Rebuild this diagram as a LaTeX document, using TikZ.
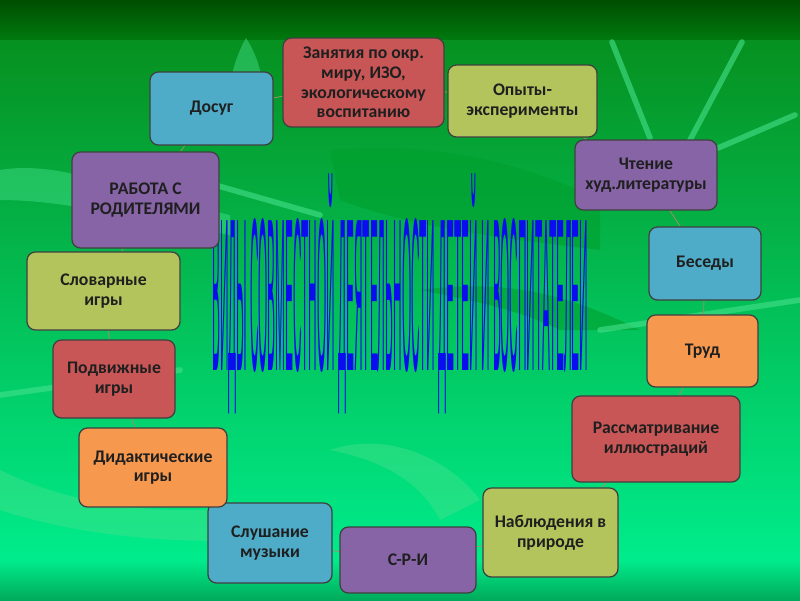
\documentclass[tikz,border=0pt]{standalone}
\usepackage{fontspec}
\setmainfont{Carlito}
\newfontfamily\titlefont{Liberation Sans}
\usetikzlibrary{positioning}
\pgfdeclarelayer{bg}
\pgfdeclarelayer{background}
\pgfsetlayers{bg,background,main}
\newlength{\px}
\setlength{\px}{0.025cm}
\definecolor{boxred}{RGB}{200,86,86}
\definecolor{boxolive}{RGB}{180,196,92}
\definecolor{boxpurple}{RGB}{134,100,166}
\definecolor{boxaqua}{RGB}{78,172,200}
\definecolor{boxorange}{RGB}{246,152,78}
\definecolor{titleblue}{RGB}{12,12,240}
\definecolor{linkgrey}{RGB}{150,145,105}
\definecolor{topdark}{RGB}{0,78,0}
\definecolor{topmid}{RGB}{0,122,14}
\definecolor{greenhi}{RGB}{6,145,32}
\definecolor{greenlo}{RGB}{0,236,140}
\definecolor{botlo}{RGB}{0,170,90}
\definecolor{leaflight}{RGB}{70,225,140}
\definecolor{leafdark}{RGB}{0,160,45}
\tikzset{
    blk/.style={draw=black!75, line width=0.9pt, rounded corners=6pt, align=center,
                font=\fontsize{12.6}{14}\selectfont\bfseries, text=black!88, inner sep=2pt},
    lnk/.style={draw=linkgrey, line width=0.6pt},
    leaf/.style={fill=leaflight, opacity=0.45},
    dleaf/.style={fill=leafdark, opacity=0.6},
    vein/.style={draw=leaflight, line width=4pt, opacity=0.6, line cap=round},
}

\begin{document}
\begin{tikzpicture}[x=\px, y=-\px]
    \useasboundingbox (0,0) rectangle (800,600);
    % background
    \begin{pgfonlayer}{bg}
        \shade[top color=topdark, bottom color=topmid] (0,0) rectangle (800,40);
        \shade[top color=greenhi, bottom color=greenlo] (0,40) rectangle (800,560);
        \shade[top color=greenlo, bottom color=botlo] (0,560) rectangle (800,600);
        \fill[dleaf] (330,150) .. controls (420,140) and (520,160) .. (600,200) -- (600,250) .. controls (520,240) and (420,230) .. (340,200) -- cycle;
        \fill[dleaf] (420,290) .. controls (500,280) and (560,290) .. (640,330) -- (560,330) .. controls (520,310) and (470,300) .. (420,290) -- cycle;
        \fill[leaf] (228,132) .. controls (224,90) and (236,55) .. (246,38) .. controls (262,62) and (270,100) .. (258,135) -- cycle;
        \fill[leaf] (0,170) .. controls (60,160) and (120,190) .. (230,215) -- (230,235) .. controls (120,215) and (60,200) .. (0,200) -- cycle;
        \fill[leaf] (440,520) .. controls (420,480) and (380,460) .. (330,450) .. controls (390,430) and (450,460) .. (480,500) -- cycle;
        \fill[leaf] (0,470) .. controls (60,500) and (150,520) .. (260,505) -- (260,540) .. controls (150,545) and (60,530) .. (0,510) -- cycle;
        \draw[vein] (612,42) -- (650,138);
        \draw[vein] (742,42) -- (690,140);
        \draw[vein] (795,115) -- (718,148);
        \draw[vein] (215,185) -- (320,215);
        \draw[vein] (600,330) -- (800,300);
        \draw[vein] (0,395) -- (180,370);
    \end{pgfonlayer}

    % title in the middle, behind the boxes
    \node[anchor=north west, inner sep=0pt] (title) at (212,173)
        {\resizebox*{376\px}{240\px}{\titlefont\color{titleblue}ВИДЫ СОВМЕСТНОЙ ДЕЯТЕЛЬНОСТИ ДЕТЕЙ И ВОСПИТАТЕЛЕЙ}};

    % boxes round the cycle
    \node[blk, fill=boxred, minimum width=161*\px, minimum height=89*\px] (zan) at (363.5,82.5) {Занятия по окр.\\миру, ИЗО,\\экологическому\\воспитанию};
    \node[blk, fill=boxolive, minimum width=149*\px, minimum height=72*\px] (opy) at (522.5,101) {Опыты-\\эксперименты};
    \node[blk, fill=boxpurple, minimum width=142*\px, minimum height=70*\px] (cht) at (646,175) {Чтение\\худ.литературы};
    \node[blk, fill=boxaqua, minimum width=112*\px, minimum height=73*\px] (bes) at (705,263.5) {Беседы};
    \node[blk, fill=boxorange, minimum width=111*\px, minimum height=72*\px] (trud) at (702.5,351) {Труд};
    \node[blk, fill=boxred, minimum width=168*\px, minimum height=86*\px] (ras) at (656,439) {Рассматривание\\иллюстраций};
    \node[blk, fill=boxolive, minimum width=135*\px, minimum height=89*\px] (nab) at (550.5,532.5) {Наблюдения в\\природе};
    \node[blk, fill=boxpurple, minimum width=136*\px, minimum height=66*\px] (sri) at (408,560) {С-Р-И};
    \node[blk, fill=boxaqua, minimum width=124*\px, minimum height=80*\px] (slu) at (270,543) {Слушание\\музыки};
    \node[blk, fill=boxorange, minimum width=148*\px, minimum height=79*\px] (did) at (153,467.5) {Дидактические\\игры};
    \node[blk, fill=boxred, minimum width=122*\px, minimum height=78*\px] (pod) at (114,379) {Подвижные\\игры};
    \node[blk, fill=boxolive, minimum width=153*\px, minimum height=78*\px] (slo) at (103.5,291) {Словарные\\игры};
    \node[blk, fill=boxpurple, minimum width=147*\px, minimum height=96*\px] (rab) at (145.5,200) {РАБОТА С\\РОДИТЕЛЯМИ};
    \node[blk, fill=boxaqua, minimum width=123*\px, minimum height=73*\px] (dos) at (211.5,108.5) {Досуг};

    \begin{pgfonlayer}{background}
        \foreach \a/\b in {zan/opy, opy/cht, cht/bes, bes/trud, trud/ras, ras/nab, nab/sri,
                           sri/slu, slu/did, did/pod, pod/slo, slo/rab, rab/dos, dos/zan}
            \draw[lnk] (\a) -- (\b);
    \end{pgfonlayer}
\end{tikzpicture}
\end{document}
